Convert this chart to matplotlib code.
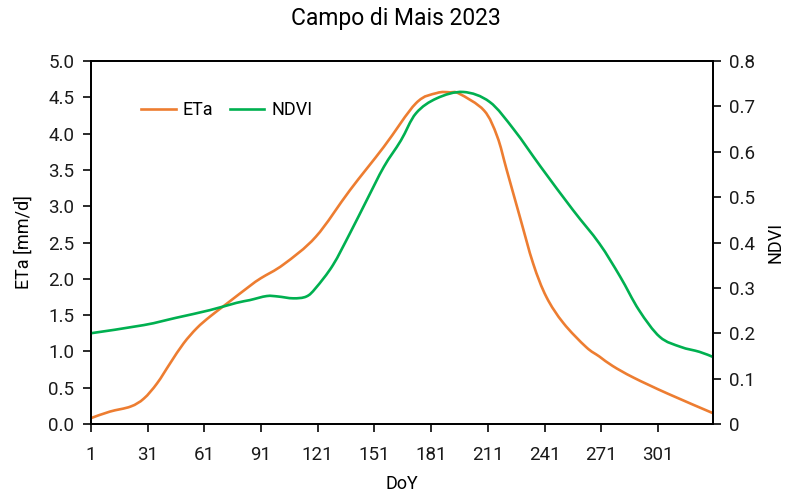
import numpy as np
import matplotlib
matplotlib.use("Agg")
import matplotlib.pyplot as plt
from matplotlib.path import Path
from matplotlib.patches import PathPatch
from matplotlib.lines import Line2D
from matplotlib.ticker import FuncFormatter

plt.rcParams['font.family'] = ['Roboto', 'DejaVu Sans']

# ETa [mm/d]
eta_doy = [1, 11, 22, 29, 36, 43, 50, 57, 64, 73, 85, 91, 103, 120, 138, 156,
           173, 184, 191, 196, 209, 216, 221, 228, 235, 242, 251, 263, 270,
           277, 288, 306, 330]
eta_val = [0.08, 0.17, 0.24, 0.35, 0.56, 0.84, 1.11, 1.32, 1.48, 1.66, 1.90,
           2.01, 2.20, 2.58, 3.22, 3.82, 4.42, 4.56, 4.57, 4.55, 4.32, 3.96,
           3.50, 2.85, 2.21, 1.75, 1.39, 1.06, 0.93, 0.80, 0.64, 0.42, 0.15]

# NDVI
ndvi_doy = [1, 29, 46, 64, 78, 85, 94, 100, 108, 115, 120, 129, 138, 147,
            156, 165, 173, 184, 198, 212, 225, 239, 256, 270, 281, 291, 302,
            313, 323, 330]
ndvi_val = [0.200, 0.218, 0.234, 0.251, 0.267, 0.273, 0.282, 0.281, 0.277,
            0.281, 0.300, 0.350, 0.420, 0.494, 0.567, 0.625, 0.685, 0.718,
            0.732, 0.710, 0.648, 0.567, 0.472, 0.398, 0.325, 0.251, 0.192,
            0.170, 0.159, 0.148]

xticks = [1, 31, 61, 91, 121, 151, 181, 211, 241, 271, 301]

ORANGE = '#ED7D31'
GREEN = '#00B050'


def smooth_path(x, y):
    '''
    Bezier path through the points (like Excel "smoothed line")
    '''
    p = np.column_stack([x, y]).astype(float)
    verts = [p[0]]
    codes = [Path.MOVETO]
    n = len(p)
    for i in range(n - 1):
        p0 = p[i - 1] if i > 0 else p[i]
        p3 = p[i + 2] if i + 2 < n else p[i + 1]
        c1 = p[i] + (p[i + 1] - p0) / 6.0
        c2 = p[i + 1] - (p3 - p[i]) / 6.0
        verts += [c1, c2, p[i + 1]]
        codes += [Path.CURVE4] * 3
    return Path(verts, codes)


fig = plt.figure(figsize=(7.91, 4.97), dpi=100)
ax = fig.add_axes([0.115, 0.147, 0.786, 0.730])
ax2 = ax.twinx()

ax.add_patch(PathPatch(smooth_path(eta_doy, eta_val), fc='none', ec=ORANGE,
                       lw=1.9, capstyle='round'))
ax2.add_patch(PathPatch(smooth_path(ndvi_doy, ndvi_val), fc='none', ec=GREEN,
                        lw=1.9, capstyle='round'))

ax.set_xlim(1, 330)
ax.set_ylim(0, 5)
ax2.set_ylim(0, 0.8)
ax.set_xticks(xticks)
ax.set_yticks(np.arange(0, 5.01, 0.5))
ax.yaxis.set_major_formatter(FuncFormatter(lambda v, p: '%.1f' % v))
ax2.set_yticks(np.arange(0, 0.81, 0.1))
ax2.yaxis.set_major_formatter(FuncFormatter(lambda v, p: '0' if v == 0 else '%.1f' % v))

for a in (ax, ax2):
    for s in a.spines.values():
        s.set_linewidth(1.3)
        s.set_color('black')
    a.tick_params(direction='out', length=6, width=1.3, labelsize=13.5, colors='#1a1a1a')
ax.tick_params(axis='x', pad=10)
ax.tick_params(axis='y', pad=6)
ax2.tick_params(axis='y', pad=6)

ax.set_xlabel('DoY', fontsize=13, labelpad=8)
ax.set_ylabel('ETa [mm/d]', fontsize=13, labelpad=11)
ax2.set_ylabel('NDVI', fontsize=13, labelpad=8)
fig.suptitle('Campo di Mais 2023', fontsize=16.5, y=0.985)

handles = [Line2D([], [], color=ORANGE, lw=1.9), Line2D([], [], color=GREEN, lw=1.9)]
ax.legend(handles, ['ETa', 'NDVI'], loc='upper left', ncol=2, frameon=False,
          fontsize=13, bbox_to_anchor=(0.055, 0.935), handlelength=1.9,
          columnspacing=0.9, handletextpad=0.4)

fig.savefig('out.png', dpi=100)
